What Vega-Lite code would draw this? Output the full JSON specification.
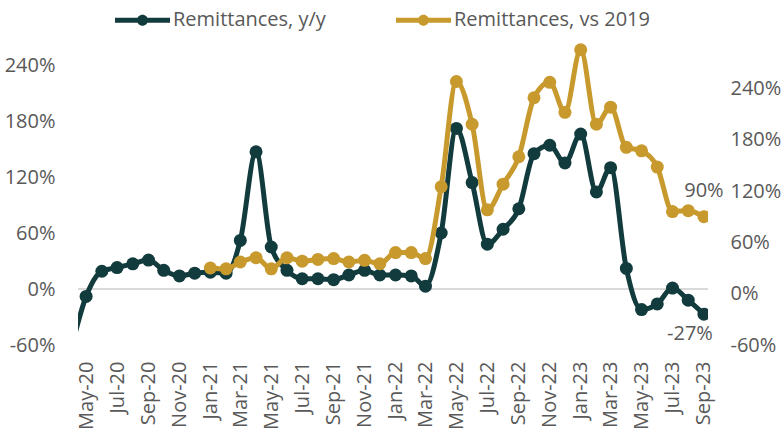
{
  "$schema": "https://vega.github.io/schema/vega-lite/v6.json",
  "width": 630,
  "height": 308,
  "autosize": {"type": "none"},
  "padding": {"left": 78, "top": 37, "right": 75, "bottom": 91},
  "background": "white",
  "config": {
    "view": {"stroke": null},
    "font": "Open Sans",
    "axis": {"labelFont": "Open Sans", "labelFontSize": 20, "labelColor": "#595959", "domain": false, "ticks": false, "grid": false, "title": null},
    "axisX": {"format": "%b-%y", "formatType": "utc", "labelAngle": -90, "labelPadding": 16, "tickCount": {"interval": "month", "step": 2}, "labelOverlap": false}
  },
  "datasets": {
    "rows": [
      {"date": "2020-04-01", "series": "Remittances, y/y", "value": -65},
      {"date": "2020-05-01", "series": "Remittances, y/y", "value": -8},
      {"date": "2020-06-01", "series": "Remittances, y/y", "value": 19},
      {"date": "2020-07-01", "series": "Remittances, y/y", "value": 23},
      {"date": "2020-08-01", "series": "Remittances, y/y", "value": 27},
      {"date": "2020-09-01", "series": "Remittances, y/y", "value": 31},
      {"date": "2020-10-01", "series": "Remittances, y/y", "value": 20},
      {"date": "2020-11-01", "series": "Remittances, y/y", "value": 14},
      {"date": "2020-12-01", "series": "Remittances, y/y", "value": 17},
      {"date": "2021-01-01", "series": "Remittances, y/y", "value": 18},
      {"date": "2021-02-01", "series": "Remittances, y/y", "value": 17},
      {"date": "2021-03-01", "series": "Remittances, y/y", "value": 52},
      {"date": "2021-04-01", "series": "Remittances, y/y", "value": 147},
      {"date": "2021-05-01", "series": "Remittances, y/y", "value": 45},
      {"date": "2021-06-01", "series": "Remittances, y/y", "value": 20},
      {"date": "2021-07-01", "series": "Remittances, y/y", "value": 11},
      {"date": "2021-08-01", "series": "Remittances, y/y", "value": 11},
      {"date": "2021-09-01", "series": "Remittances, y/y", "value": 10},
      {"date": "2021-10-01", "series": "Remittances, y/y", "value": 15},
      {"date": "2021-11-01", "series": "Remittances, y/y", "value": 20},
      {"date": "2021-12-01", "series": "Remittances, y/y", "value": 15},
      {"date": "2022-01-01", "series": "Remittances, y/y", "value": 15},
      {"date": "2022-02-01", "series": "Remittances, y/y", "value": 14},
      {"date": "2022-03-01", "series": "Remittances, y/y", "value": 3},
      {"date": "2022-04-01", "series": "Remittances, y/y", "value": 60},
      {"date": "2022-05-01", "series": "Remittances, y/y", "value": 172},
      {"date": "2022-06-01", "series": "Remittances, y/y", "value": 114},
      {"date": "2022-07-01", "series": "Remittances, y/y", "value": 48},
      {"date": "2022-08-01", "series": "Remittances, y/y", "value": 64},
      {"date": "2022-09-01", "series": "Remittances, y/y", "value": 86},
      {"date": "2022-10-01", "series": "Remittances, y/y", "value": 145},
      {"date": "2022-11-01", "series": "Remittances, y/y", "value": 154},
      {"date": "2022-12-01", "series": "Remittances, y/y", "value": 135},
      {"date": "2023-01-01", "series": "Remittances, y/y", "value": 166},
      {"date": "2023-02-01", "series": "Remittances, y/y", "value": 104},
      {"date": "2023-03-01", "series": "Remittances, y/y", "value": 130},
      {"date": "2023-04-01", "series": "Remittances, y/y", "value": 22},
      {"date": "2023-05-01", "series": "Remittances, y/y", "value": -22},
      {"date": "2023-06-01", "series": "Remittances, y/y", "value": -16},
      {"date": "2023-07-01", "series": "Remittances, y/y", "value": 1},
      {"date": "2023-08-01", "series": "Remittances, y/y", "value": -12},
      {"date": "2023-09-01", "series": "Remittances, y/y", "value": -27, "label": "-27%"},
      {"date": "2021-01-01", "series": "Remittances, vs 2019", "value": 30},
      {"date": "2021-02-01", "series": "Remittances, vs 2019", "value": 29},
      {"date": "2021-03-01", "series": "Remittances, vs 2019", "value": 37},
      {"date": "2021-04-01", "series": "Remittances, vs 2019", "value": 42},
      {"date": "2021-05-01", "series": "Remittances, vs 2019", "value": 29},
      {"date": "2021-06-01", "series": "Remittances, vs 2019", "value": 42},
      {"date": "2021-07-01", "series": "Remittances, vs 2019", "value": 38},
      {"date": "2021-08-01", "series": "Remittances, vs 2019", "value": 40},
      {"date": "2021-09-01", "series": "Remittances, vs 2019", "value": 41},
      {"date": "2021-10-01", "series": "Remittances, vs 2019", "value": 37},
      {"date": "2021-11-01", "series": "Remittances, vs 2019", "value": 39},
      {"date": "2021-12-01", "series": "Remittances, vs 2019", "value": 35},
      {"date": "2022-01-01", "series": "Remittances, vs 2019", "value": 48},
      {"date": "2022-02-01", "series": "Remittances, vs 2019", "value": 48},
      {"date": "2022-03-01", "series": "Remittances, vs 2019", "value": 41},
      {"date": "2022-04-01", "series": "Remittances, vs 2019", "value": 125},
      {"date": "2022-05-01", "series": "Remittances, vs 2019", "value": 248},
      {"date": "2022-06-01", "series": "Remittances, vs 2019", "value": 198},
      {"date": "2022-07-01", "series": "Remittances, vs 2019", "value": 98},
      {"date": "2022-08-01", "series": "Remittances, vs 2019", "value": 128},
      {"date": "2022-09-01", "series": "Remittances, vs 2019", "value": 160},
      {"date": "2022-10-01", "series": "Remittances, vs 2019", "value": 229},
      {"date": "2022-11-01", "series": "Remittances, vs 2019", "value": 247},
      {"date": "2022-12-01", "series": "Remittances, vs 2019", "value": 212},
      {"date": "2023-01-01", "series": "Remittances, vs 2019", "value": 285},
      {"date": "2023-02-01", "series": "Remittances, vs 2019", "value": 198},
      {"date": "2023-03-01", "series": "Remittances, vs 2019", "value": 218},
      {"date": "2023-04-01", "series": "Remittances, vs 2019", "value": 171},
      {"date": "2023-05-01", "series": "Remittances, vs 2019", "value": 167},
      {"date": "2023-06-01", "series": "Remittances, vs 2019", "value": 148},
      {"date": "2023-07-01", "series": "Remittances, vs 2019", "value": 96},
      {"date": "2023-08-01", "series": "Remittances, vs 2019", "value": 97},
      {"date": "2023-09-01", "series": "Remittances, vs 2019", "value": 90, "label": "90%"}
    ]
  },
  "data": {"name": "rows"},
  "layer": [
    {
      "transform": [{"filter": "datum.series === 'Remittances, y/y'"}],
      "layer": [
        {
          "mark": {"type": "rule", "color": "#d9d9d9", "strokeWidth": 2},
          "encoding": {"y": {"datum": 0, "type": "quantitative",
            "scale": {"domain": [-60, 270], "nice": false, "zero": false},
            "axis": {"orient": "left", "values": [-60, 0, 60, 120, 180, 240], "labelExpr": "datum.value + '%'", "labelPadding": 23}}}
        },
        {
          "mark": {"type": "line", "color": "#123B3D", "strokeWidth": 5, "interpolate": "monotone", "clip": true},
          "encoding": {
            "x": {"field": "date", "type": "temporal",
              "scale": {"type": "utc", "domain": [{"year": 2020, "month": "Apr", "date": 15, "utc": true}, {"year": 2023, "month": "Sep", "date": 9, "utc": true}]}},
            "y": {"field": "value", "type": "quantitative"}
          }
        },
        {
          "mark": {"type": "point", "filled": true, "size": 169, "opacity": 1, "clip": true},
          "encoding": {
            "x": {"field": "date", "type": "temporal"},
            "y": {"field": "value", "type": "quantitative"},
            "color": {"field": "series", "type": "nominal",
              "scale": {"domain": ["Remittances, y/y", "Remittances, vs 2019"], "range": ["#123B3D", "#C89A2E"]},
              "legend": {"orient": "none", "legendX": 37, "legendY": -44.5, "direction": "horizontal", "title": null,
                "symbolType": "M-1,-0.09 L1,-0.09 L1,0.09 L-1,0.09 Z M-0.2,0 A0.2,0.2 0 1,1 0.2,0 A0.2,0.2 0 1,1 -0.2,0 Z",
                "symbolSize": 3025, "symbolStrokeWidth": 0, "labelFontSize": 20, "labelFont": "Open Sans", "labelColor": "#595959", "labelOffset": 3, "labelLimit": 400, "columnPadding": 70, "padding": 0}}
          }
        },
        {
          "transform": [{"filter": "datum.label"}],
          "mark": {"type": "text", "fontSize": 20, "color": "#595959", "dx": -14, "dy": 20, "baseline": "middle", "align": "center"},
          "encoding": {
            "x": {"field": "date", "type": "temporal"},
            "y": {"field": "value", "type": "quantitative"},
            "text": {"field": "label"}
          }
        }
      ]
    },
    {
      "transform": [{"filter": "datum.series === 'Remittances, vs 2019'"}],
      "layer": [
        {
          "mark": {"type": "line", "color": "#C89A2E", "strokeWidth": 5, "interpolate": "monotone", "clip": true},
          "encoding": {
            "x": {"field": "date", "type": "temporal"},
            "y": {"field": "value", "type": "quantitative",
              "scale": {"domain": [-60, 300], "nice": false, "zero": false},
              "axis": {"orient": "right", "values": [-60, 0, 60, 120, 180, 240], "labelExpr": "datum.value + '%'", "labelPadding": 22}}
          }
        },
        {
          "mark": {"type": "point", "filled": true, "size": 169, "opacity": 1, "clip": true},
          "encoding": {
            "x": {"field": "date", "type": "temporal"},
            "y": {"field": "value", "type": "quantitative"},
            "color": {"field": "series", "type": "nominal"}
          }
        },
        {
          "transform": [{"filter": "datum.label"}],
          "mark": {"type": "text", "fontSize": 20, "color": "#595959", "dx": 0, "dy": -26, "baseline": "middle", "align": "center"},
          "encoding": {
            "x": {"field": "date", "type": "temporal"},
            "y": {"field": "value", "type": "quantitative"},
            "text": {"field": "label"}
          }
        }
      ]
    }
  ],
  "resolve": {"scale": {"y": "independent"}}
}
